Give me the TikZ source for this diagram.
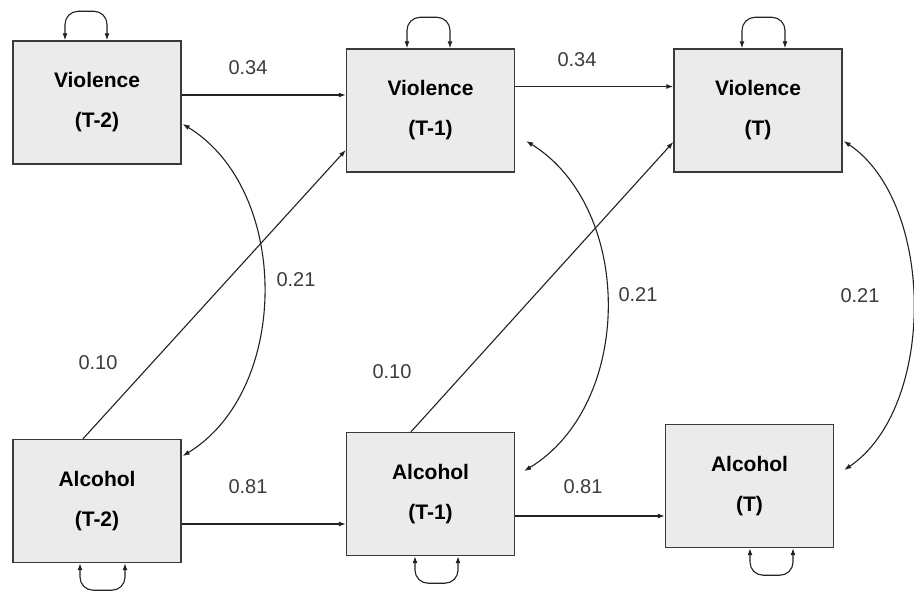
\documentclass[tikz,border=0pt]{standalone}
\usepackage{fontspec}
\setmainfont{Liberation Sans}
\usetikzlibrary{calc,arrows.meta}
\definecolor{boxfill}{HTML}{EBEBEB}
\definecolor{boxline}{HTML}{3A3A3A}
\definecolor{linecol}{HTML}{222222}
\definecolor{numcol}{HTML}{3C3C3C}
\begin{document}
\begin{tikzpicture}[x=1pt,y=-1pt,
  box/.style={draw=boxline, fill=boxfill, line width=1.4pt, minimum width=168pt,
    minimum height=123pt, inner sep=0pt, align=center,
    font=\bfseries\fontsize{21}{40}\selectfont},
  arr/.style={draw=linecol, line width=1.1pt, -{Latex[length=7pt,width=5pt]}},
  dbl/.style={draw=linecol, line width=1.1pt, {Latex[length=7pt,width=5pt]}-{Latex[length=7pt,width=5pt]}},
  loopline/.style={dbl, rounded corners=13pt},
  lbl/.style={text=numcol, font=\fontsize{20}{24}\selectfont, inner sep=0pt}]
\fill[white] (0,0) rectangle (914,591);
\useasboundingbox (0,0) rectangle (914,591);

% boxes
\node[box] (VT2) at (97,102.5) {Violence\\(T-2)};
\node[box] (VT1) at (430.5,110.5) {Violence\\(T-1)};
\node[box] (VT)  at (758,110.5) {Violence\\(T)};
\node[box] (AT2) at (97,501) {Alcohol\\(T-2)};
\node[box] (AT1) at (430.5,494) {Alcohol\\(T-1)};
\node[box] (AT)  at (749.5,486) {Alcohol\\(T)};

% self loops
\draw[loopline] ($(VT2.north)+(-32,0)$) -- ++(0,-29) -- ++(42,0) -- ++(0,29);
\draw[loopline] ($(VT1.north)+(-23.5,0)$) -- ++(0,-31) -- ++(43,0) -- ++(0,31);
\draw[loopline] ($(VT.north)+(-16,0)$) -- ++(0,-31) -- ++(43,0) -- ++(0,31);
\draw[loopline] ($(AT2.south)+(-17,0)$) -- ++(0,27) -- ++(45,0) -- ++(0,-27);
\draw[loopline] ($(AT1.south)+(-15.5,0)$) -- ++(0,27) -- ++(43,0) -- ++(0,-27);
\draw[loopline] ($(AT.south)+(0.5,0)$) -- ++(0,27) -- ++(43,0) -- ++(0,-27);

% horizontal paths
\coordinate (h1) at ($(VT2.east)+(0,-7.5)$);
\draw[arr] (h1) -- (h1 -| VT1.west);
\coordinate (h2) at ($(VT1.east)+(0,-24)$);
\draw[arr] (h2) -- (h2 -| VT.west);
\coordinate (h3) at ($(AT2.east)+(0,23)$);
\draw[arr] (h3) -- (h3 -| AT1.west);
\coordinate (h4) at ($(AT1.east)+(0,22)$);
\draw[arr] (h4) -- (h4 -| AT.west);

% cross-lagged paths
\draw[arr] ($(AT2.north)+(-14,0)$) -- ($(VT1.west)+(0,39.5)$);
\draw[arr] ($(AT1.north)+(-19.5,0)$) -- ($(VT.west)+(0,31.5)$);

% correlations
\draw[dbl] ($(VT2.east)+(1,21.5)$) .. controls +(108,66) and +(108,-66) .. ($(AT2.east)+(1,-45)$);
\draw[dbl] ($(VT1.east)+(11,30.5)$) .. controls +(108,67) and +(110,-67) .. ($(AT1.east)+(9,-23)$);
\draw[dbl] ($(VT.east)+(1,30.5)$) .. controls +(92,62) and +(92,-62) .. ($(AT.east)+(10,-16)$);

% labels
\node[lbl] (l1) at (248,68) {0.34};
\node[lbl] (l2) at (577,60) {0.34};
\node[lbl] (l3) at (296,280) {0.21};
\node[lbl] (l4) at (638,295) {0.21};
\node[lbl] (l5) at (860,296) {0.21};
\node[lbl] (l6) at (98,363) {0.10};
\node[lbl] (l7) at (392,372) {0.10};
\node[lbl] (l8) at (248,487) {0.81};
\node[lbl] (l9) at (583,487) {0.81};
\end{tikzpicture}
\end{document}
